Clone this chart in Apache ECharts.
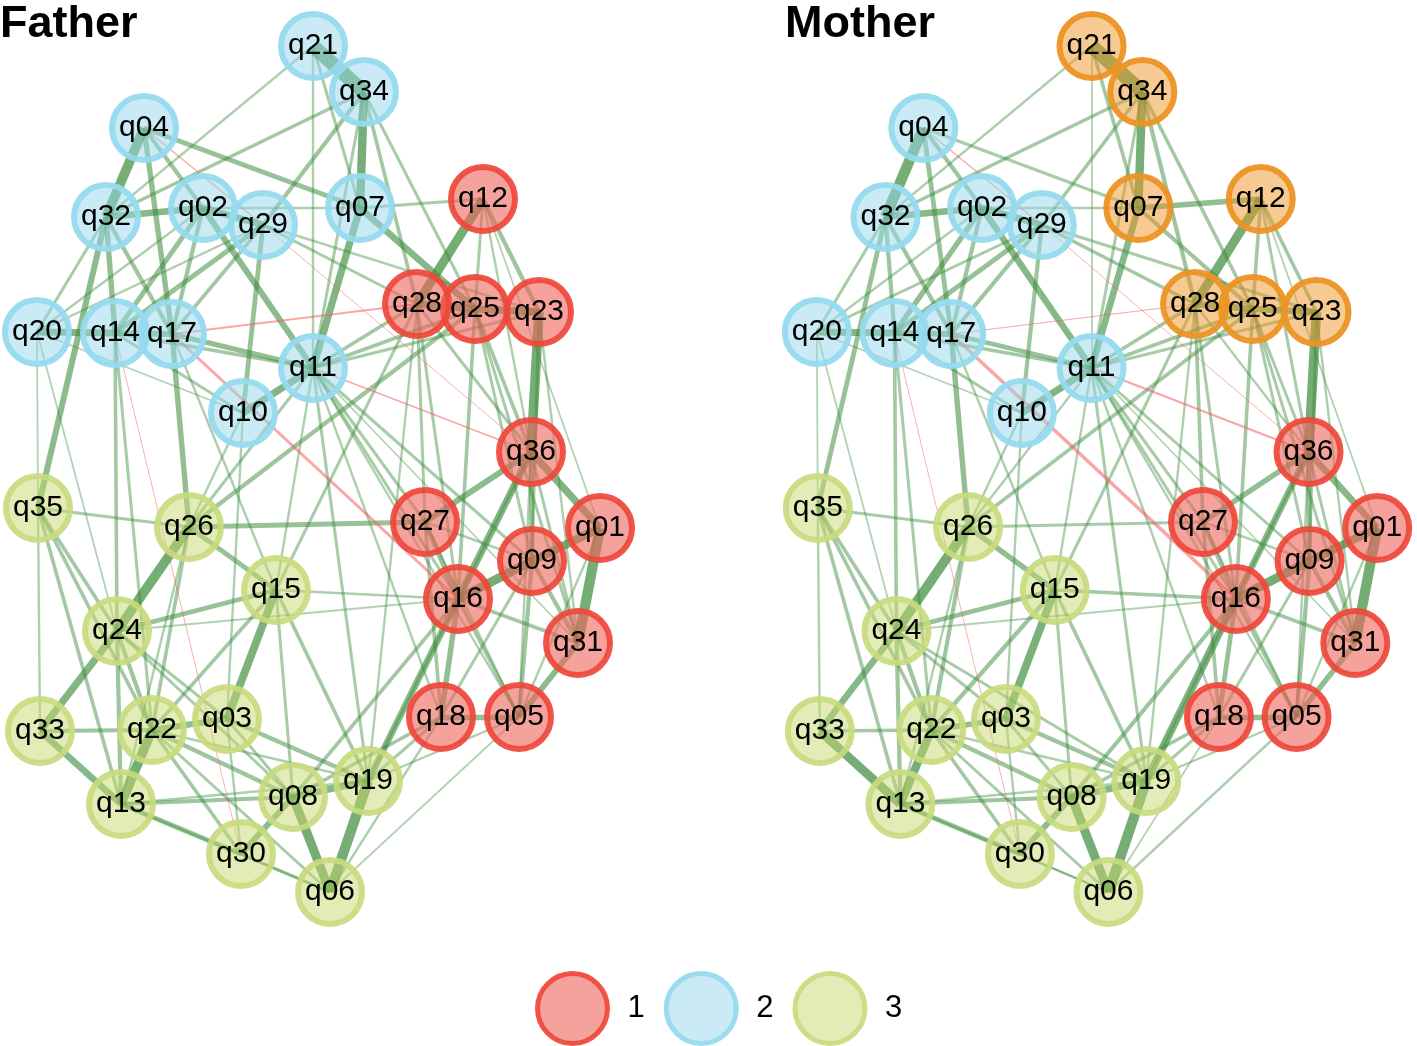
<!DOCTYPE html>
<html><head><meta charset="utf-8">
<script src="https://cdn.jsdelivr.net/npm/echarts@6/dist/echarts.min.js"></script>
<style>html,body{margin:0;padding:0;background:#fff}#c{width:1417px;height:1046px}</style>
</head><body><div id="c"></div>
<script>
// ---- data ----
const nodeNames = ['q01','q02','q03','q04','q05','q06','q07','q08','q09','q10','q11','q12','q13','q14','q15','q16','q17','q18','q19','q20','q21','q22','q23','q24','q25','q26','q27','q28','q29','q30','q31','q32','q33','q34','q35','q36'];
const nodeX = [600,203,227,144,519,330,360,293,532,243,313,483,121,115,276,458,172,441,368,37,313,152,539,117,475,189,425,417,263,241,578,106,40,364,38,531];
const nodeY = [528,208,719,128,717,892,208,797,561,413,368,199,804,333,590,599,334,717,781,332,46,730,312,631,309,527,522,304,225,854,643,217,731,92,508,452];
// community of each node (index into categories)
const fatherGroup = [0,1,2,1,0,2,1,2,0,1,1,0,2,1,2,0,1,0,2,1,1,2,0,2,0,2,0,0,1,2,0,1,2,1,2,0];
const motherGroup = [0,1,2,1,0,2,3,2,0,1,1,3,2,1,2,0,1,0,2,1,3,2,3,2,3,2,0,3,1,2,0,1,2,3,2,0];
const legendLabels = ['1','2','3'];
const panelTitles = ['Father','Mother'];

// edges: [source, target, weight]  (negative = red)
const fatherEdges = [
 ['q21','q34',0.48],['q04','q32',0.32],['q32','q02',0.22],['q20','q14',0.24],['q14','q17',0.20],
 ['q34','q07',0.28],['q07','q11',0.24],['q07','q25',0.22],['q12','q28',0.30],['q28','q25',0.25],
 ['q25','q23',0.25],['q23','q36',0.32],['q36','q01',0.24],['q01','q31',0.34],['q01','q09',0.28],
 ['q09','q16',0.30],['q36','q16',0.24],['q36','q27',0.20],['q27','q16',0.16],['q31','q05',0.20],
 ['q18','q05',0.18],['q16','q18',0.18],['q16','q19',0.22],['q19','q06',0.34],['q08','q06',0.30],
 ['q36','q09',0.16],['q09','q05',0.14],['q26','q24',0.32],['q24','q33',0.24],['q33','q13',0.22],
 ['q22','q13',0.32],['q15','q03',0.26],['q22','q03',0.20],['q08','q19',0.22],['q08','q30',0.20],
 ['q13','q30',0.16],['q13','q08',0.14],['q26','q15',0.16],['q24','q15',0.16],['q26','q27',0.16],
 ['q35','q26',0.10],['q33','q22',0.14],['q17','q11',0.18],['q10','q11',0.24],['q02','q11',0.20],
 ['q02','q29',0.22],['q32','q14',0.18],['q04','q17',0.18],['q04','q02',0.14],['q04','q07',0.16],
 ['q32','q17',0.14],['q29','q10',0.16],['q29','q14',0.16],['q02','q14',0.16],['q07','q12',0.10],
 ['q28','q11',0.12],['q12','q23',0.14],['q12','q25',0.10],['q32','q35',0.20],['q17','q26',0.18],
 ['q34','q29',0.14],['q34','q32',0.12],['q21','q11',0.08],['q21','q07',0.10],['q21','q32',0.08],
 ['q34','q28',0.12],['q34','q25',0.10],['q34','q11',0.10],['q29','q28',0.10],['q29','q23',0.08],
 ['q11','q25',0.12],['q11','q23',0.10],['q11','q27',0.10],['q11','q16',0.10],['q11','q09',0.10],
 ['q11','q18',0.08],['q11','q15',0.08],['q11','q26',0.10],['q26','q25',0.14],['q28','q27',0.10],
 ['q28','q16',0.10],['q28','q36',0.10],['q25','q36',0.12],['q25','q09',0.10],['q25','q16',0.12],
 ['q25','q31',0.10],['q23','q09',0.10],['q23','q31',0.08],['q12','q36',0.08],['q12','q01',0.06],
 ['q27','q18',0.12],['q27','q05',0.08],['q27','q09',0.08],['q16','q05',0.12],['q16','q31',0.12],
 ['q09','q31',0.14],['q36','q31',0.10],['q09','q18',0.10],['q19','q18',0.10],['q19','q05',0.08],
 ['q06','q05',0.06],['q06','q18',0.08],['q15','q19',0.12],['q15','q16',0.08],['q15','q08',0.10],
 ['q15','q22',0.12],['q03','q19',0.14],['q03','q08',0.10],['q03','q30',0.08],['q22','q08',0.14],
 ['q22','q30',0.12],['q22','q06',0.10],['q22','q19',0.08],['q24','q22',0.14],['q24','q13',0.14],
 ['q24','q03',0.10],['q24','q08',0.10],['q35','q24',0.12],['q35','q22',0.12],['q35','q13',0.12],
 ['q35','q33',0.08],['q35','q20',0.06],['q26','q22',0.12],['q26','q13',0.08],['q30','q06',0.10],
 ['q13','q06',0.08],['q13','q19',0.08],['q20','q32',0.10],['q20','q02',0.08],['q20','q29',0.08],
 ['q20','q10',0.06],['q20','q24',0.06],['q14','q11',0.12],['q14','q10',0.10],['q14','q22',0.10],
 ['q14','q24',0.12],['q17','q15',0.08],['q17','q29',0.12],['q17','q02',0.14],['q02','q07',0.08],
 ['q10','q03',0.08],['q10','q26',0.08],['q11','q19',0.10],['q11','q31',0.06],['q11','q05',0.08],
 ['q28','q15',0.10],['q28','q19',0.08],['q36','q19',0.08],['q18','q08',0.12],['q16','q08',0.12],
 ['q16','q24',0.06],['q01','q05',0.08],['q36','q05',0.08],
 ['q17','q16',-0.10],['q17','q28',-0.06],['q11','q36',-0.05],['q04','q29',-0.04],['q29','q36',-0.03],
 ['q14','q30',-0.03]
];
const motherEdges = [
 ['q21','q34',0.48],['q04','q32',0.36],['q32','q02',0.22],['q20','q14',0.24],['q14','q17',0.20],
 ['q34','q07',0.28],['q07','q11',0.22],['q07','q25',0.14],['q12','q28',0.30],['q28','q25',0.22],
 ['q25','q23',0.22],['q23','q36',0.32],['q36','q01',0.22],['q01','q31',0.34],['q01','q09',0.28],
 ['q09','q16',0.30],['q36','q16',0.22],['q36','q27',0.18],['q27','q16',0.14],['q31','q05',0.18],
 ['q18','q05',0.18],['q16','q18',0.16],['q16','q19',0.26],['q19','q06',0.34],['q08','q06',0.30],
 ['q36','q09',0.16],['q09','q05',0.14],['q26','q24',0.32],['q24','q33',0.22],['q33','q13',0.30],
 ['q22','q13',0.28],['q15','q03',0.26],['q22','q03',0.18],['q08','q19',0.22],['q08','q30',0.20],
 ['q13','q30',0.16],['q13','q08',0.14],['q26','q15',0.18],['q24','q15',0.16],['q26','q27',0.10],
 ['q35','q26',0.10],['q33','q22',0.12],['q17','q11',0.16],['q10','q11',0.24],['q02','q11',0.22],
 ['q02','q29',0.22],['q32','q14',0.14],['q04','q17',0.16],['q04','q02',0.14],['q04','q07',0.10],
 ['q32','q17',0.14],['q29','q10',0.14],['q29','q14',0.16],['q02','q14',0.18],['q07','q12',0.18],
 ['q28','q11',0.12],['q12','q23',0.12],['q12','q25',0.12],['q32','q35',0.16],['q17','q26',0.18],
 ['q34','q29',0.12],['q34','q32',0.12],['q21','q11',0.06],['q21','q07',0.12],['q21','q32',0.08],
 ['q34','q28',0.14],['q34','q25',0.12],['q34','q11',0.10],['q29','q28',0.12],['q29','q23',0.10],
 ['q11','q25',0.12],['q11','q23',0.10],['q11','q27',0.10],['q11','q16',0.10],['q11','q09',0.10],
 ['q11','q18',0.08],['q11','q15',0.08],['q11','q26',0.08],['q26','q25',0.12],['q28','q27',0.12],
 ['q28','q16',0.10],['q28','q36',0.08],['q25','q36',0.10],['q25','q09',0.10],['q25','q16',0.12],
 ['q25','q31',0.10],['q23','q09',0.10],['q23','q31',0.08],['q12','q36',0.10],['q12','q01',0.06],
 ['q27','q18',0.12],['q27','q05',0.08],['q27','q09',0.08],['q16','q05',0.12],['q16','q31',0.12],
 ['q09','q31',0.14],['q36','q31',0.10],['q09','q18',0.10],['q19','q18',0.10],['q19','q05',0.08],
 ['q06','q05',0.08],['q06','q18',0.06],['q15','q19',0.12],['q15','q16',0.12],['q15','q08',0.10],
 ['q15','q22',0.14],['q03','q19',0.14],['q03','q08',0.10],['q03','q30',0.08],['q22','q08',0.14],
 ['q22','q30',0.12],['q22','q06',0.10],['q22','q19',0.08],['q24','q22',0.14],['q24','q13',0.14],
 ['q24','q03',0.10],['q24','q19',0.10],['q35','q24',0.12],['q35','q22',0.12],['q35','q13',0.12],
 ['q35','q33',0.08],['q35','q20',0.06],['q26','q22',0.14],['q26','q13',0.08],['q30','q06',0.08],
 ['q13','q06',0.08],['q13','q19',0.08],['q20','q32',0.10],['q20','q02',0.08],['q20','q29',0.10],
 ['q20','q10',0.06],['q20','q24',0.06],['q14','q11',0.12],['q14','q10',0.10],['q14','q22',0.10],
 ['q14','q24',0.12],['q17','q15',0.08],['q17','q29',0.14],['q17','q02',0.14],['q02','q07',0.08],
 ['q10','q03',0.08],['q10','q26',0.08],['q11','q19',0.10],['q11','q31',0.06],['q11','q05',0.08],
 ['q28','q15',0.10],['q28','q19',0.08],['q36','q19',0.08],['q18','q08',0.12],['q16','q08',0.14],
 ['q16','q24',0.06],['q01','q05',0.08],['q36','q05',0.08],
 ['q17','q16',-0.12],['q17','q28',-0.04],['q11','q36',-0.08],['q04','q29',-0.04],['q29','q36',-0.03],
 ['q14','q30',-0.03]
];

// ---- styles ----
const fills   = ['rgba(238,100,92,0.6)','rgba(150,215,235,0.5)','rgba(200,215,110,0.5)','rgba(240,150,40,0.5)'];
const borders = ['rgba(238,70,58,0.92)','rgba(150,218,238,0.95)','rgba(200,218,125,0.9)','rgba(236,148,36,0.95)'];
const FONT = 'Liberation Sans, Arial, sans-serif';

function buildNodes(groups){
  return nodeNames.map((n,i)=>({name:n, value:[nodeX[i], nodeY[i]], category:groups[i]}));
}
function buildLinks(edges){
  return edges.map(([s,t,w])=>{
    const a = Math.abs(w);
    return {source:s, target:t, lineStyle: w>0
      ? {color:'#3a8a3a', width:a*30, opacity:Math.min(0.7, 0.3 + a*1.4)}
      : {color:'#f25c5c', width:a*30, opacity:0.55}};
  });
}
function buildCategories(n){
  const arr=[];
  for(let i=0;i<n;i++) arr.push({name:String(i+1), itemStyle:{color:fills[i], borderColor:borders[i], borderWidth:6}});
  return arr;
}
function graphSeries(idx, groups, edges, ncat){
  return {
    type:'graph', coordinateSystem:'cartesian2d', xAxisIndex:idx, yAxisIndex:idx,
    symbol:'circle', symbolSize:64, roam:false, silent:true,
    categories: buildCategories(ncat),
    data: buildNodes(groups),
    links: buildLinks(edges),
    label:{show:true, position:'inside', color:'#000', fontSize:30, fontFamily:FONT},
    lineStyle:{curveness:0},
    emphasis:{disabled:true}
  };
}

const chart = echarts.init(document.getElementById('c'), null, {renderer:'canvas'});
chart.setOption({
  backgroundColor:'#fff',
  animation:false,
  title: panelTitles.map((t,i)=>({text:t, left: i===0?0:785, top:2, padding:0,
    textStyle:{fontSize:45, fontWeight:'bold', color:'#000', fontFamily:FONT}})),
  grid:[
    {left:0, top:0, width:640, height:1046},
    {left:780, top:0, width:640, height:1046}
  ],
  xAxis:[0,1].map(i=>({gridIndex:i, type:'value', min:0, max:640, show:false})),
  yAxis:[0,1].map(i=>({gridIndex:i, type:'value', min:0, max:1046, inverse:true, show:false})),
  legend:{
    left:530, top:966, orient:'horizontal', itemWidth:70, itemHeight:70, itemGap:19,
    selectedMode:false,
    data: legendLabels.map((n,i)=>({name:n, icon:'circle',
      itemStyle:{color:fills[i], borderColor:borders[i], borderWidth:5}})),
    textStyle:{fontSize:31, color:'#000', fontFamily:FONT, padding:[0,0,0,15]}
  },
  series:[
    graphSeries(0, fatherGroup, fatherEdges, 3),
    graphSeries(1, motherGroup, motherEdges, 4)
  ]
});
</script></body></html>
